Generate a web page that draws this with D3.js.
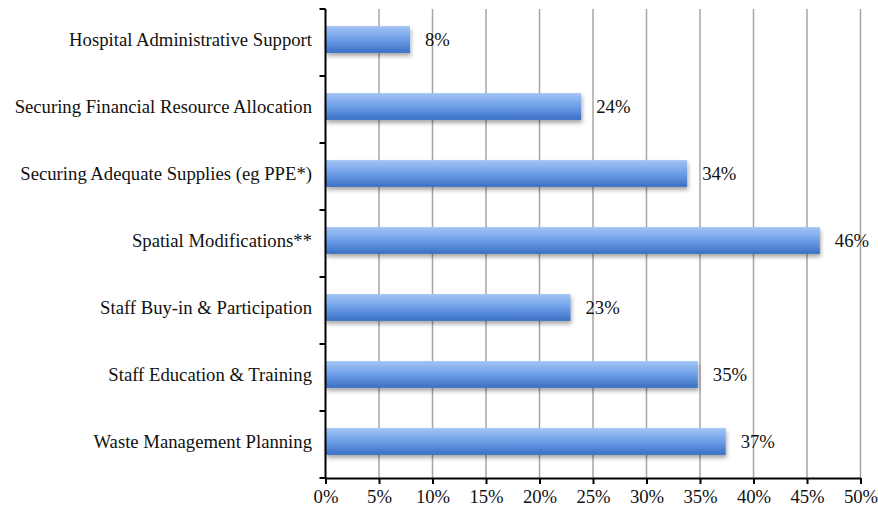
<!DOCTYPE html>
<html><head><meta charset="utf-8">
<script src="https://cdn.jsdelivr.net/npm/d3@7"></script>
<style>body{margin:0;background:#fff}svg{display:block}</style>
</head><body>
<svg id="c" width="878" height="511"></svg>
<script>
const categories = ["Hospital Administrative Support","Securing Financial Resource Allocation","Securing Adequate Supplies (eg PPE*)","Spatial Modifications**","Staff Buy-in & Participation","Staff Education & Training","Waste Management Planning"];
const values = [7.9, 23.9, 33.8, 46.2, 22.9, 34.8, 37.4];
const xTicks = [0,5,10,15,20,25,30,35,40,45,50];

const svg = d3.select("#c");
const L = 325.5, R = 860.5, T = 9, B = 478;
const x = d3.scaleLinear().domain([0,50]).range([L,R]);
const y = d3.scaleBand().domain(categories).range([T,B]).paddingInner(0.6).paddingOuter(0.3);
const font = "'Liberation Serif','Times New Roman',serif";
const fs = 18.7;

const defs = svg.append("defs");
const g = defs.append("linearGradient").attr("id","bg").attr("x1",0).attr("y1",0).attr("x2",0).attr("y2",1);
g.append("stop").attr("offset","0%").attr("stop-color","#a3c4f5");
g.append("stop").attr("offset","45%").attr("stop-color","#72a2ea");
g.append("stop").attr("offset","100%").attr("stop-color","#3a70c4");
const f = defs.append("filter").attr("id","sh").attr("x","-5%").attr("y","-30%").attr("width","115%").attr("height","190%");
f.append("feGaussianBlur").attr("in","SourceAlpha").attr("stdDeviation",2.2);
f.append("feOffset").attr("dx",1).attr("dy",3).attr("result","o");
f.append("feComponentTransfer").append("feFuncA").attr("type","linear").attr("slope",0.35);
const m = f.append("feMerge"); m.append("feMergeNode"); m.append("feMergeNode").attr("in","SourceGraphic");

// gridlines
svg.append("g").selectAll("line").data(xTicks.filter(d=>d>0)).join("line")
  .attr("x1",d=>x(d)).attr("x2",d=>x(d)).attr("y1",T).attr("y2",B)
  .attr("stroke","#a6a6a6").attr("stroke-width",1.5);

// bars
svg.append("g").selectAll("rect").data(values).join("rect")
  .attr("x",x(0)).attr("y",(d,i)=>y(categories[i])-3)
  .attr("width",d=>x(d)-x(0)).attr("height",y.bandwidth())
  .attr("fill","url(#bg)").attr("filter","url(#sh)");

// data labels
svg.append("g").selectAll("text").data(values).join("text")
  .attr("x",d=>x(d)+15).attr("y",(d,i)=>y(categories[i])-3+y.bandwidth()/2)
  .attr("dy","0.35em").attr("font-family",font).attr("font-size",fs).attr("fill","#111")
  .text(d=>d3.format(".0f")(d)+"%");

// y axis
const ya = svg.append("g");
ya.append("line").attr("x1",L).attr("x2",L).attr("y1",T).attr("y2",B).attr("stroke","#000").attr("stroke-width",2);
const bounds = d3.range(categories.length+1).map(i=>T+i*(B-T)/categories.length);
ya.selectAll("line.t").data(bounds).join("line").attr("class","t")
  .attr("x1",L-6).attr("x2",L).attr("y1",d=>d).attr("y2",d=>d).attr("stroke","#000").attr("stroke-width",2);
ya.selectAll("text").data(categories).join("text")
  .attr("x",312).attr("y",d=>y(d)-3+y.bandwidth()/2).attr("dy","0.35em")
  .attr("text-anchor","end").attr("font-family",font).attr("font-size",fs).attr("fill","#111")
  .text(d=>d);

// x axis
const xa = svg.append("g").attr("transform",`translate(0,${B})`)
  .call(d3.axisBottom(x).tickValues(xTicks).tickFormat(d=>d+"%").tickSize(6).tickSizeOuter(0));
xa.select(".domain").attr("stroke","#000").attr("stroke-width",2);
xa.selectAll(".tick line").attr("stroke","#000").attr("stroke-width",2);
xa.selectAll(".tick text").attr("font-family",font).attr("font-size",fs).attr("fill","#111").attr("dy","0.85em");
</script>
</body></html>
